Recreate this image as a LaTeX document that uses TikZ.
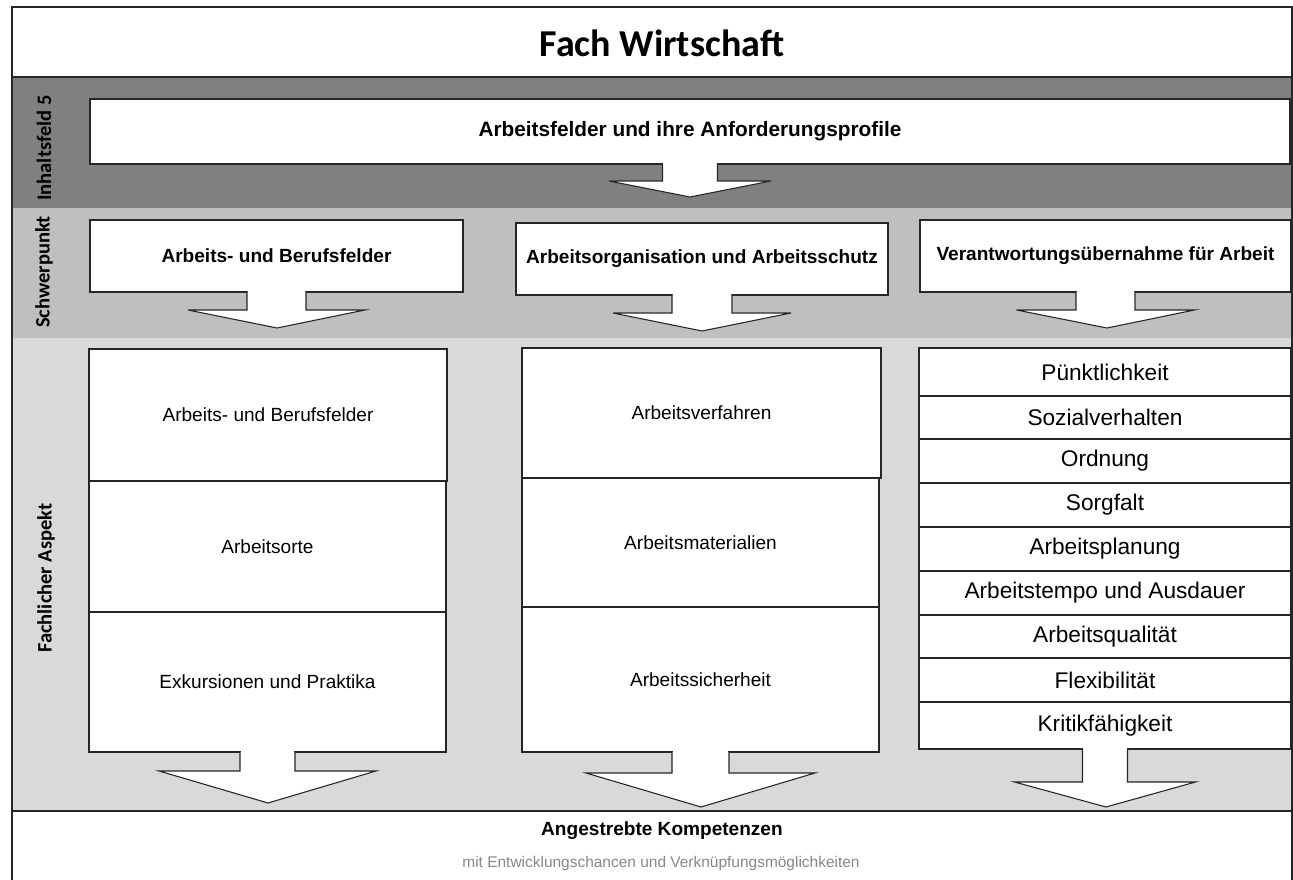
\documentclass[tikz,border=0pt]{standalone}
\usepackage{fontspec}
\setmainfont{Liberation Sans}
\newfontfamily\calib{Carlito}
\usetikzlibrary{calc}
\definecolor{bandA}{HTML}{808080}
\definecolor{bandB}{HTML}{BFBFBF}
\definecolor{bandC}{HTML}{D9D9D9}
\definecolor{subgray}{HTML}{888888}
\newcommand\bx[7]{\node[#6, minimum width={(#4-#2)*0.75pt}, minimum height={(#5-#3)*0.75pt}] (#1) at ({(#2+#4)/2},{(#3+#5)/2}) {#7};}
\newcommand\barrow[6]{%
  \filldraw[line, fill=white] ($(#1.south)+(-#2,0)$) -- ($(#1.south)+(-#2,#3)$) -- ($(#1.south)+(-#4,#3)$) -- ($(#1.south)+(#6,#5)$) -- ($(#1.south)+(#4,#3)$) -- ($(#1.south)+(#2,#3)$) -- ($(#1.south)+(#2,0)$);
  \fill[white] ($(#1.south)+(-#2+0.8,-1.6)$) rectangle ($(#1.south)+(#2-0.8,0.6)$);
}
\begin{document}
\begin{tikzpicture}[x=0.75pt,y=-0.75pt,
  line/.style={draw=black!85, line width=0.8pt},
  box/.style={line, fill=white, inner sep=0pt, outer sep=0pt, align=center},
  headtxt/.style={font=\bfseries\fontsize{14.3}{16}\selectfont},
  itemtxt/.style={font=\fontsize{14.3}{16}\selectfont},
  itemthree/.style={font=\fontsize{17}{19}\selectfont},
  side/.style={font=\calib\bfseries\fontsize{15.4}{17}\selectfont, rotate=90}]
\useasboundingbox (0,0) rectangle (1293,880);
\clip (0,0) rectangle (1293,880);
% bands
\fill[white] (12,7) rectangle (1292,890);
\fill[bandA] (12,77) rectangle (1292,208);
\fill[bandB] (12,208) rectangle (1292,338);
\fill[bandC] (12,338) rectangle (1292,811);
\draw[line] (12,890) -- (12,7) -- (1292,7) -- (1292,890);
\draw[line] (12,77) -- (1292,77);
\draw[line] (12,811) -- (1292,811);
% title
\node[font=\calib\bfseries\fontsize{28.5}{32}\selectfont] (title) at (662,43) {Fach Wirtschaft};
% side labels
\node[side] (lab1) at (44,148) {Inhaltsfeld 5};
\node[side] (lab2) at (44,272) {Schwerpunkt};
\node[side] (lab3) at (46,578) {Fachlicher Aspekt};
% Inhaltsfeld box
\bx{inh}{90}{99}{1290}{164}{box,headtxt,font=\bfseries\fontsize{15.6}{18}\selectfont}{Arbeitsfelder und ihre Anforderungsprofile}
% Schwerpunkt boxes
\bx{s1}{90}{220}{463}{292}{box,headtxt}{Arbeits- und Berufsfelder}
\bx{s2}{516}{223}{888}{295}{box,headtxt}{Arbeitsorganisation und Arbeitsschutz}
\bx{s3}{920}{220}{1291}{292}{box,headtxt}{Verantwortungsübernahme für Arbeit}
% column 1
\bx{a1}{89}{349}{447}{481}{box,itemtxt}{Arbeits- und Berufsfelder}
\bx{a2}{89}{481}{446}{612}{box,itemtxt}{Arbeitsorte}
\bx{a3}{89}{612}{446}{752}{box,itemtxt}{Exkursionen und Praktika}
% column 2
\bx{b1}{522}{348}{881}{478}{box,itemtxt}{Arbeitsverfahren}
\bx{b2}{522}{478}{879}{607}{box,itemtxt}{Arbeitsmaterialien}
\bx{b3}{522}{607}{879}{752}{box,itemtxt}{Arbeitssicherheit}
% column 3
\bx{k1}{919}{348}{1291}{396}{box,itemthree}{Pünktlichkeit}
\bx{k2}{919}{396}{1291}{439}{box,itemthree}{Sozialverhalten}
\bx{k3}{919}{439}{1291}{483}{box,itemthree}{Ordnung}
\bx{k4}{919}{483}{1291}{527}{box,itemthree}{Sorgfalt}
\bx{k5}{919}{527}{1291}{571}{box,itemthree}{Arbeitsplanung}
\bx{k6}{919}{571}{1291}{615}{box,itemthree}{Arbeitstempo und Ausdauer}
\bx{k7}{919}{615}{1291}{658}{box,itemthree}{Arbeitsqualität}
\bx{k8}{919}{658}{1291}{702}{box,itemthree}{Flexibilität}
\bx{k9}{919}{702}{1291}{749}{box,itemthree}{Kritikfähigkeit}
% arrows
\barrow{inh}{27.5}{17}{81}{33}{0}
\barrow{s1}{29.5}{18}{88.5}{36}{0.5}
\barrow{s2}{30}{18}{89}{36}{0}
\barrow{s3}{29.5}{18}{89}{36}{1.5}
\barrow{a3}{27.5}{19}{108.5}{51}{0.5}
\barrow{b3}{28.5}{21}{114.5}{55}{0.5}
\barrow{k9}{22.5}{33}{90.5}{58}{1}
% bottom texts
\node[font=\bfseries\fontsize{14.3}{16}\selectfont] (komp) at (662,831) {Angestrebte Kompetenzen};
\node[font=\fontsize{11.6}{13}\selectfont, text=subgray] (sub) at (661,863) {mit Entwicklungschancen und Verknüpfungsmöglichkeiten};
\end{tikzpicture}
\end{document}
